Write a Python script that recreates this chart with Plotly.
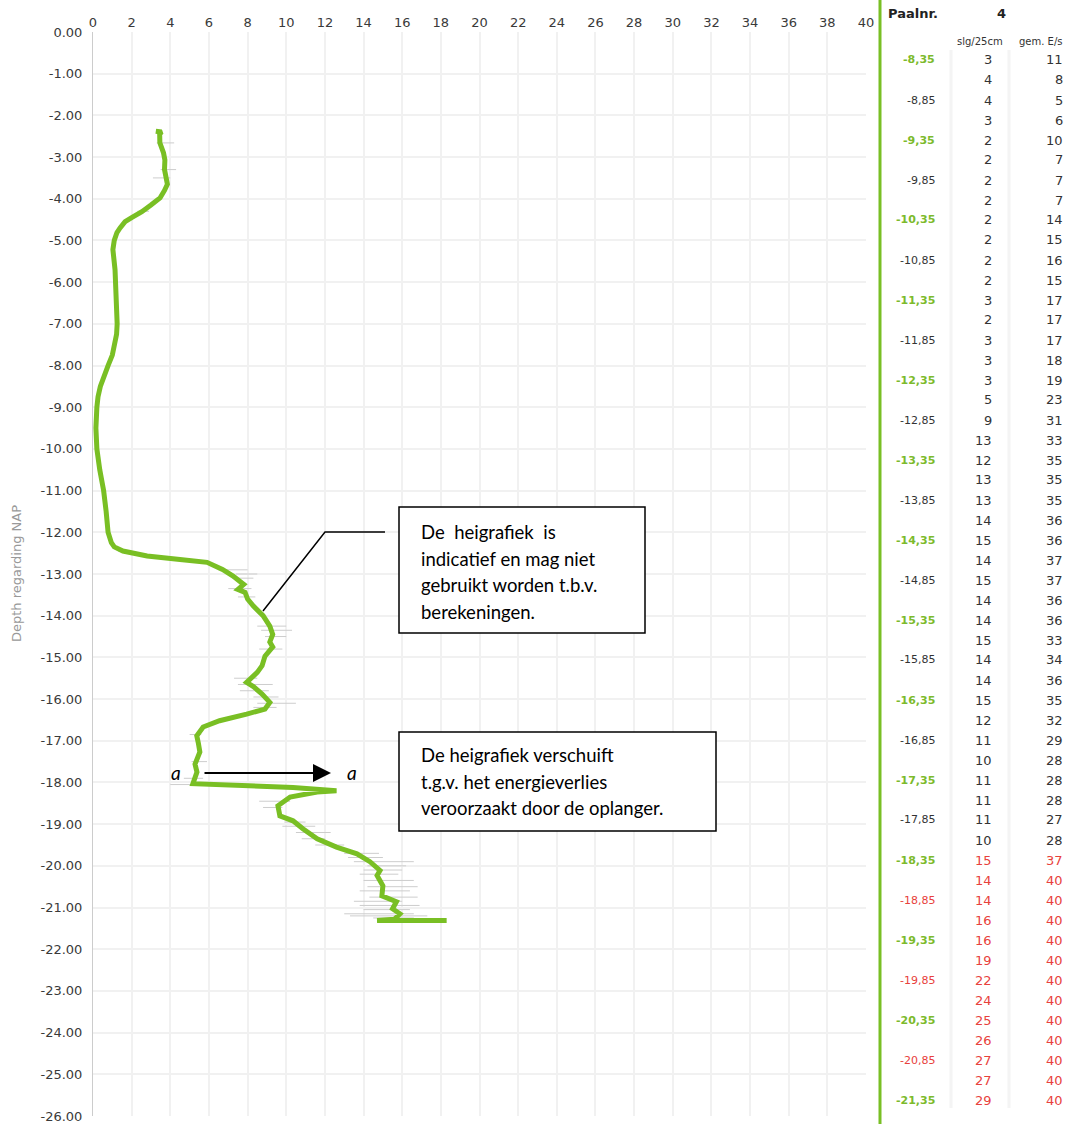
import plotly.graph_objects as go

# ---------------- data ----------------
curve_depth = [-2.38, -2.40, -2.45, -2.66, -2.90, -3.07, -3.30, -3.54, -3.65, -3.80, -3.98, -4.15,
               -4.31, -4.45, -4.55, -4.70, -4.81, -5.00, -5.22, -5.70, -6.20, -6.60, -7.00, -7.25,
               -7.50, -7.75, -8.00, -8.25, -8.50, -8.75, -9.00, -9.50, -10.00, -10.50, -11.00,
               -11.50, -12.00, -12.25, -12.35,
               -12.45, -12.57, -12.65, -12.72, -12.89, -13.05, -13.25, -13.37, -13.44, -13.60,
               -13.77, -14.00, -14.25, -14.45, -14.63, -14.75, -14.97, -15.20, -15.36, -15.60,
               -15.70, -15.88, -16.08, -16.24, -16.36, -16.52, -16.67, -16.88, -17.05, -17.27,
               -17.56, -17.75, -18.03, -18.08, -18.12, -18.20, -18.23, -18.35, -18.56, -18.80,
               -18.92, -19.11, -19.35, -19.55, -19.71, -19.90, -20.11, -20.23, -20.48, -20.72,
               -20.86, -21.03, -21.15, -21.28, -21.31, -21.31]
curve_energy = [3.25, 3.55, 3.45, 3.46, 3.65, 3.72, 3.70, 3.83, 3.85, 3.70, 3.47, 3.00,
                2.53, 2.00, 1.66, 1.40, 1.24, 1.10, 1.03, 1.14, 1.20, 1.24, 1.25, 1.22,
                1.14, 1.00, 0.78, 0.58, 0.38, 0.26, 0.20, 0.15, 0.20, 0.35, 0.55,
                0.68, 0.78, 0.95, 1.10,
                1.55, 2.80, 4.50, 5.90, 6.70, 7.25, 7.80, 7.50, 7.87, 8.00,
                8.30, 8.80, 9.15, 9.30, 9.15, 9.30, 8.90, 8.75, 8.50, 7.95,
                8.30, 8.75, 9.15, 8.90, 7.95, 6.55, 5.70, 5.37, 5.45, 5.53,
                5.28, 5.38, 5.17, 8.00, 10.35, 12.60, 11.60, 10.20, 9.57, 9.67,
                10.35, 10.86, 11.60, 12.60, 13.66, 14.33, 14.85, 14.70, 15.00, 14.95,
                15.70, 15.50, 15.88, 15.60, 14.70, 18.30]

# spread of the individual blows (grey thin lines)
spread_depth = [-2.66, -3.30, -3.50, -4.30, -12.45, -12.90, -13.00, -13.10, -13.35, -13.55,
                -14.25, -14.35, -14.50, -14.80, -15.50, -15.65, -15.80, -15.95, -16.10, -16.20,
                -16.85, -17.50, -17.90, -18.05, -18.45, -18.60, -18.95, -19.05, -19.20, -19.35,
                -19.50, -19.70, -19.80, -19.90, -20.00, -20.10, -20.20, -20.35, -20.50, -20.60,
                -20.75, -20.85, -20.95, -21.05, -21.15, -21.20, -21.25]
spread_lo = [3.3, 3.5, 3.1, 2.3, 1.3, 6.5, 7.4, 7.2, 7.0, 7.5,
             8.5, 8.7, 8.9, 8.6, 7.3, 7.5, 7.6, 8.3, 8.5, 8.3,
             5.0, 5.1, 4.7, 4.0, 8.6, 8.8, 9.9, 9.8, 10.5, 10.8,
             11.5, 13.0, 13.2, 13.5, 14.2, 14.0, 13.8, 14.0, 14.2, 13.8,
             14.3, 13.5, 13.8, 14.0, 13.0, 13.3, 14.5]
spread_hi = [4.2, 4.3, 4.0, 2.9, 2.0, 8.0, 8.5, 8.3, 8.2, 8.4,
             10.0, 10.3, 10.0, 9.8, 8.5, 9.3, 9.1, 9.6, 10.5, 9.5,
             5.6, 5.9, 5.7, 6.2, 10.2, 9.8, 11.0, 11.5, 12.3, 12.0,
             13.0, 14.8, 15.0, 16.6, 16.2, 16.0, 15.8, 16.6, 16.8, 16.4,
             16.8, 16.0, 16.9, 16.4, 16.6, 17.3, 16.6]

x_tick_vals = list(range(0, 41, 2))
x_tick_text = [str(v) for v in x_tick_vals]
y_tick_vals = [-v for v in range(0, 27)]
y_tick_text = ["0.00"] + ["-%d.00" % v for v in range(1, 27)]

pile_label = "Paalnr."
pile_number = "4"
col_headers = ["slg/25cm", "gem. E/s"]
table_depths = ["-8,35", "-8,60", "-8,85", "-9,10", "-9,35", "-9,60", "-9,85", "-10,10", "-10,35",
                "-10,60", "-10,85", "-11,10", "-11,35", "-11,60", "-11,85", "-12,10", "-12,35",
                "-12,60", "-12,85", "-13,10", "-13,35", "-13,60", "-13,85", "-14,10", "-14,35",
                "-14,60", "-14,85", "-15,10", "-15,35", "-15,60", "-15,85", "-16,10", "-16,35",
                "-16,60", "-16,85", "-17,10", "-17,35", "-17,60", "-17,85", "-18,10", "-18,35",
                "-18,60", "-18,85", "-19,10", "-19,35", "-19,60", "-19,85", "-20,10", "-20,35",
                "-20,60", "-20,85", "-21,10", "-21,35"]
blows = [3, 4, 4, 3, 2, 2, 2, 2, 2, 2, 2, 2,
         3, 2, 3, 3, 3, 5, 9, 13, 12, 13, 13, 14, 15, 14,
         15, 14, 14, 15, 14, 14, 15, 12, 11, 10, 11, 11, 11, 10,
         15, 14, 14, 16, 16, 19, 22, 24, 25, 26, 27, 27, 29]
energy_visible = ["11", "8", "5", "6", "10", "7", "7", "7", "14", "15", "16", "15",
                  "17", "17", "17", "18", "19", "23", "31", "33", "35", "35", "35", "36", "36", "37",
                  "37", "36", "36", "33", "34", "36", "35", "32", "29", "28", "28", "28", "27", "28",
                  "37", "40", "40", "40", "40", "40", "40", "40", "40", "40", "40", "40", "40"]
red_from_row = 40

note1_lines = ["De\u00a0 heigrafiek\u00a0 is", "indicatief en mag niet", "gebruikt worden t.b.v.", "berekeningen."]
note2_lines = ["De heigrafiek verschuift", "t.g.v. het energieverlies", "veroorzaakt door de oplanger."]

# ---------------- layout helpers ----------------
L, R, T, B = 93, 866, 32, 1116
W, H = R - L, B - T


def px(x):
    return (x - L) / W


def py(y):
    return (B - y) / H


GREEN = "#79bf24"
DARK = "#333333"
RED = "#e8413c"
TGREEN = "#7cba2c"

fig = go.Figure()

# grey spread lines
sx, sy = [], []
for d, lo, hi in zip(spread_depth, spread_lo, spread_hi):
    sx += [lo, hi, None]
    sy += [d, d, None]
fig.add_trace(go.Scatter(x=sx, y=sy, mode="lines", line=dict(color="#cdcdcd", width=1),
                         hoverinfo="skip", showlegend=False))

fig.add_trace(go.Scatter(x=curve_energy, y=curve_depth, mode="lines",
                         line=dict(color=GREEN, width=5), showlegend=False))

fig.update_layout(
    width=1065, height=1124,
    margin=dict(l=L, r=1065 - R, t=T, b=1124 - B, autoexpand=False),
    paper_bgcolor="white", plot_bgcolor="white",
    font=dict(family="DejaVu Sans", size=13, color=DARK),
    xaxis=dict(range=[0, 40], side="top", tickvals=x_tick_vals, ticktext=x_tick_text,
               showgrid=True, gridcolor="#f1f1f1", gridwidth=2, zeroline=False,
               showline=False, ticks="", fixedrange=True, automargin=False,
               ticklabelstandoff=1,
               tickfont=dict(family="DejaVu Sans", size=13, color="#3a3a3a")),
    yaxis=dict(range=[-26, 0], tickvals=y_tick_vals, ticktext=y_tick_text,
               showgrid=True, gridcolor="#f1f1f1", gridwidth=2, zeroline=False,
               showline=True, linecolor="#cccccc", linewidth=1, ticks="", automargin=False,
               ticklabelstandoff=7,
               tickfont=dict(family="DejaVu Sans", size=13, color="#3a3a3a")),
    showlegend=False,
)

shapes = []
annotations = []


def note(x, y, text, xanchor="center", **kw):
    d = dict(x=px(x), y=py(y), xref="paper", yref="paper", text=text, showarrow=False,
             xanchor=xanchor, yanchor="middle")
    d.update(kw)
    annotations.append(d)


# y-axis title
note(16, 574, "Depth regarding NAP", textangle=-90,
     font=dict(family="DejaVu Sans", size=13, color="#999999"))

# green separator
shapes.append(dict(type="line", xref="paper", yref="paper", x0=px(880), x1=px(880),
                   y0=py(0), y1=py(1124), line=dict(color=GREEN, width=3)))
# faint table column borders
for cx in (951, 1009):
    shapes.append(dict(type="line", xref="paper", yref="paper", x0=px(cx), x1=px(cx),
                       y0=py(50), y1=py(1108), line=dict(color="#f4f4f4", width=3)))

# table header
note(886, 14, "<b>%s</b>" % pile_label, xanchor="left", font=dict(size=13, color="#222222"))
note(1001, 14, "<b>%s</b>" % pile_number, font=dict(size=13, color="#222222"))
note(980, 41, col_headers[0], font=dict(size=10, color=DARK))
note(1017, 41, col_headers[1], xanchor="left", font=dict(size=10, color=DARK))

row0, row_h = 60, 20.0
for i, (lab, b, e) in enumerate(zip(table_depths, blows, energy_visible)):
    yy = row0 + i * row_h
    red = i >= red_from_row
    col = RED if red else DARK
    if i % 4 == 0:
        note(937, yy, "<b>%s</b>" % lab, xanchor="right", font=dict(size=11, color=TGREEN))
    elif i % 4 == 2:
        note(937, yy, lab, xanchor="right", font=dict(size=11, color=col))
    note(994, yy, str(b), xanchor="right", font=dict(size=13, color=col))
    note(1065, yy, e, xanchor="right", font=dict(size=13, color=col))

# note boxes
shapes.append(dict(type="rect", xref="paper", yref="paper", x0=px(399), x1=px(645), y0=py(507), y1=py(633),
                   line=dict(color="black", width=1.5), fillcolor="white"))
shapes.append(dict(type="rect", xref="paper", yref="paper", x0=px(399), x1=px(716), y0=py(732), y1=py(831),
                   line=dict(color="black", width=1.5), fillcolor="white"))
for k, t in enumerate(note1_lines):
    note(419, 532 + k * 26.7, t, xanchor="left", font=dict(family="Lato", size=18.5, color="black"))
for k, t in enumerate(note2_lines):
    note(419, 755 + k * 26.5, t, xanchor="left", font=dict(family="Lato", size=18.5, color="black"))

# leader line
shapes.append(dict(type="path", xref="paper", yref="paper",
                   path="M %f %f L %f %f L %f %f" % (px(263), py(611), px(325), py(532), px(385), py(532)),
                   line=dict(color="black", width=1.5)))

# arrow a -> a
annotations.append(dict(x=px(331), y=py(773), xref="paper", yref="paper", ax=-128, ay=0, text="",
                        showarrow=True, arrowhead=2, arrowsize=1.8, arrowwidth=2, arrowcolor="black"))
for ax_ in (176, 352):
    note(ax_, 772, "<i>a</i>", font=dict(family="Lato", size=19, color="black"))

fig.update_layout(shapes=shapes, annotations=annotations)
fig.write_html("out.html")
